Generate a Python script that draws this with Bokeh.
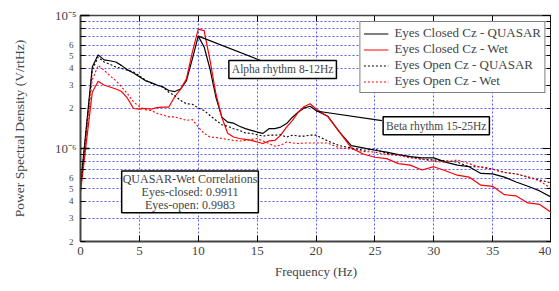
from bokeh.plotting import figure
from bokeh.models import (LogAxis, LinearAxis, FixedTicker, CustomJSTickFormatter,
                          Legend, LegendItem, Label, Range1d)
from bokeh.embed import file_html
from bokeh.resources import INLINE

# ---------------- data (PSD in uV/rtHz, converted to V/rtHz below) ----------------
freq = [0, 1, 1.5, 2, 2.5, 3, 3.5, 4, 4.5, 5, 5.5, 6, 6.5, 7, 7.5, 8, 8.5, 9, 9.5, 10,
        10.5, 11, 11.5, 12, 12.5, 13, 13.5, 14, 14.5, 15, 15.5, 16, 16.5, 17, 17.5, 18,
        18.5, 19, 19.5, 20, 21, 22, 23, 24, 25, 26, 27, 28, 29, 30, 31, 32, 33, 34, 35,
        36, 37, 38, 39, 40]

ec_quasar_u = [0.52, 4.10, 5.06, 4.64, 4.57, 4.47, 4.20, 3.90, 3.70, 3.47, 3.24, 3.13, 3.00, 2.90, 2.73, 2.68, 2.80, 3.24, 4.72, 7.00,
               5.80, 3.96, 2.43, 1.72, 1.58, 1.55, 1.47, 1.41, 1.37, 1.33, 1.30, 1.41, 1.41, 1.45, 1.54, 1.72,
               1.88, 2.02, 2.08, 1.93, 1.75, 1.33, 1.05, 1.01, 0.97, 0.94, 0.90, 0.87, 0.85, 0.85, 0.79, 0.75, 0.73, 0.65, 0.645,
               0.61, 0.56, 0.52, 0.48, 0.43]

ec_wet_u = [0.47, 2.65, 3.20, 3.00, 2.90, 2.80, 2.68, 2.38, 2.00, 1.98, 2.00, 1.98, 2.03, 2.05, 2.05, 2.45, 2.80, 3.35, 5.30, 7.90,
            7.70, 4.60, 2.58, 1.72, 1.30, 1.22, 1.19, 1.17, 1.15, 1.12, 1.09, 1.14, 1.15, 1.26, 1.45, 1.63,
            1.88, 2.07, 2.17, 1.98, 1.74, 1.33, 1.01, 0.91, 0.86, 0.84, 0.77, 0.75, 0.69, 0.73, 0.68, 0.63, 0.61, 0.53, 0.52,
            0.45, 0.44, 0.39, 0.38, 0.33]

eo_quasar_u = [0.50, 3.90, 4.87, 4.47, 4.30, 4.10, 4.00, 3.88, 3.77, 3.53, 3.27, 3.10, 2.98, 2.90, 2.65, 2.50, 2.30, 2.17, 2.15, 2.02,
               1.93, 1.77, 1.63, 1.51, 1.47, 1.41, 1.37, 1.31, 1.30, 1.27, 1.24, 1.26, 1.26, 1.27, 1.22, 1.26,
               1.24, 1.24, 1.26, 1.26, 1.14, 1.05, 1.01, 0.97, 0.99, 0.92, 0.89, 0.87, 0.83, 0.82, 0.81, 0.79, 0.73, 0.73, 0.70,
               0.66, 0.645, 0.61, 0.58, 0.55]

eo_wet_u = [0.48, 3.30, 4.20, 3.88, 3.53, 3.24, 2.90, 2.58, 2.24, 2.07, 1.96, 1.93, 1.84, 1.79, 1.73, 1.73, 1.68, 1.63, 1.65, 1.45,
            1.30, 1.22, 1.21, 1.19, 1.17, 1.15, 1.14, 1.15, 1.17, 1.19, 1.14, 1.09, 1.04, 1.06, 1.12, 1.10,
            1.09, 1.10, 1.10, 1.10, 1.10, 1.01, 0.99, 0.95, 0.94, 0.90, 0.89, 0.85, 0.83, 0.80, 0.79, 0.82, 0.77, 0.72, 0.70,
            0.66, 0.645, 0.61, 0.57, 0.50]

series_names = ["Eyes Closed Cz - QUASAR", "Eyes Closed Cz - Wet",
                "Eyes Open Cz - QUASAR", "Eyes Open Cz - Wet"]
x_ticks = [0, 5, 10, 15, 20, 25, 30, 35, 40]
decades = [1e-6, 1e-5]
corr_closed = 0.9911
corr_open = 0.9983

U = 1e-6
ec_quasar = [v * U for v in ec_quasar_u]
ec_wet = [v * U for v in ec_wet_u]
eo_quasar = [v * U for v in eo_quasar_u]
eo_wet = [v * U for v in eo_wet_u]

FONT = "Liberation Serif"
GRID = "#5a5aff"

# log tick positions (1..9 x decade)
y_all = [m * 10.0 ** e for e in (-7, -6) for m in range(1, 10)] + [1e-5]
y_all = [t for t in y_all if t >= 1.99e-7]
y_minor = [t for t in y_all if min(abs(t / d - 1) for d in decades) > 1e-6]

DIGITS_JS = """
const e = Math.floor(Math.log10(tick) + 1e-9);
const m = Math.round(tick / Math.pow(10, e));
return (m >= 2 && m <= 6) ? String(m) : "";
"""

p = figure(width=551, height=283, x_range=Range1d(0, 40), y_range=Range1d(2e-7, 1e-5),
           y_axis_type="log", output_backend="svg", toolbar_location=None,
           min_border_left=80, min_border_right=0, min_border_top=15, min_border_bottom=42)
p.outline_line_color = "black"
p.outline_line_width = 1
p.background_fill_color = "white"
p.border_fill_color = "white"

# ---------- x axes ----------
xax = p.xaxis[0]
xax.ticker = FixedTicker(ticks=x_ticks)
xax.major_tick_in = 6
xax.major_tick_out = 0
xax.minor_tick_line_color = None
xax.major_tick_line_color = "black"
xax.axis_line_color = "#444444"
xax.axis_line_width = 2
xax.major_label_text_font = FONT
xax.major_label_text_font_size = "13px"
xax.major_label_standoff = 5
xax.axis_label = "Frequency (Hz)"
xax.axis_label_text_font = FONT
xax.axis_label_text_font_style = "normal"
xax.axis_label_text_font_size = "13px"
xax.axis_label_standoff = 6

xtop = LinearAxis(ticker=FixedTicker(ticks=x_ticks), formatter=CustomJSTickFormatter(code="return '';"))
xtop.major_tick_in = 6
xtop.major_tick_out = 0
xtop.minor_tick_line_color = None
xtop.axis_line_color = "#444444"
xtop.axis_line_width = 1.5
xtop.major_label_standoff = 0
p.add_layout(xtop, "above")

# ---------- y axes ----------
# inner axis: decade labels 10^-6, 10^-5, long decade ticks and short minor ticks
yax = p.yaxis[0]
yax.ticker = FixedTicker(ticks=decades, minor_ticks=y_minor)
yax.formatter = CustomJSTickFormatter(code='return tick > 5e-6 ? "10\u207b\u2075" : "10\u207b\u2076";')
yax.major_tick_in = 9
yax.major_tick_out = 0
yax.major_tick_line_width = 1.5
yax.minor_tick_in = 5
yax.minor_tick_out = 0
yax.minor_tick_line_color = "black"
yax.axis_line_color = "#444444"
yax.axis_line_width = 2
yax.major_label_text_font = FONT
yax.major_label_text_font_size = "13px"
yax.major_label_standoff = 4

# outer axis: small digit labels pulled back next to the frame
ydig = LogAxis(ticker=FixedTicker(ticks=y_all), formatter=CustomJSTickFormatter(code=DIGITS_JS))
ydig.major_tick_line_color = None
ydig.minor_tick_line_color = None
ydig.axis_line_color = None
ydig.major_tick_in = 0
ydig.major_tick_out = 0
ydig.major_label_text_font = FONT
ydig.major_label_text_font_size = "9px"
ydig.major_label_standoff = -22
ydig.axis_label = "Power Spectral Density (V/rtHz)"
ydig.axis_label_text_font = FONT
ydig.axis_label_text_font_style = "normal"
ydig.axis_label_text_font_size = "13.5px"
ydig.axis_label_standoff = 39
p.add_layout(ydig, "left")

yright = LogAxis(ticker=FixedTicker(ticks=decades, minor_ticks=y_minor),
                 formatter=CustomJSTickFormatter(code="return '';"))
yright.major_tick_in = 9
yright.major_tick_out = 0
yright.minor_tick_in = 5
yright.minor_tick_out = 0
yright.minor_tick_line_color = "black"
yright.axis_line_color = "#444444"
yright.axis_line_width = 1.5
yright.major_label_standoff = 0
p.add_layout(yright, "right")

# ---------- grids ----------
p.xgrid.ticker = FixedTicker(ticks=x_ticks)
p.ygrid.ticker = FixedTicker(ticks=y_all)
for g in (p.xgrid[0], p.ygrid[0]):
    g.grid_line_color = GRID
    g.grid_line_dash = "2 2"
    g.grid_line_width = 1
    g.grid_line_alpha = 1.0

# ---------- lines ----------
r1 = p.line(freq, ec_quasar, line_color="black", line_width=1.2)
r2 = p.line(freq, ec_wet, line_color="#ff0000", line_width=1.2)
r3 = p.line(freq, eo_quasar, line_color="black", line_width=1.1, line_dash="2 2")
r4 = p.line(freq, eo_wet, line_color="#ff0000", line_width=1.1, line_dash="2 2")

# ---------- annotations ----------
i_alpha = max(range(len(freq)), key=lambda i: ec_quasar[i] if 8 <= freq[i] <= 12 else 0)
i_beta = max(range(len(freq)), key=lambda i: ec_quasar[i] if 15 <= freq[i] <= 25 else 0)
p.line([freq[i_alpha], 15.4], [ec_quasar[i_alpha], 4.55e-6], line_color="black", line_width=1.2)
p.line([freq[i_beta] + 0.5, 25.6], [ec_quasar[i_beta] * 0.92, 1.62e-6], line_color="black", line_width=1.2)

common = dict(text_font=FONT, border_line_color="black",
              border_line_width=1.5, background_fill_color="white", background_fill_alpha=1.0)

p.add_layout(Label(x=12.6, y=3.93e-6, text="Alpha rhythm 8-12Hz", text_align="left",
                   text_baseline="middle", padding=3, text_font_size="11.5px", **common))
p.add_layout(Label(x=25.7, y=1.48e-6, text="Beta rhythm 15-25Hz", text_align="left",
                   text_baseline="middle", padding=3, text_font_size="11.5px", **common))
p.add_layout(Label(x=9.3, y=4.72e-7,
                   text="QUASAR-Wet Correlations\nEyes-closed: %.4f\nEyes-open: %.4f" % (corr_closed, corr_open),
                   text_align="center", text_baseline="middle", padding=1, text_font_size="12px",
                   text_line_height=0.92, **common))

# ---------- legend ----------
legend = Legend(items=[LegendItem(label=n, renderers=[r]) for n, r in zip(series_names, [r1, r2, r3, r4])],
                location="top_right")
legend.label_text_font = FONT
legend.label_text_font_size = "13px"
legend.label_height = 15
legend.glyph_height = 15
legend.glyph_width = 25
legend.label_standoff = 6
legend.spacing = 0
legend.padding = 3
legend.margin = 6
legend.border_line_color = "black"
legend.border_line_width = 1.2
legend.background_fill_alpha = 1.0
p.add_layout(legend)

open("out.html", "w").write(file_html(p, INLINE))
